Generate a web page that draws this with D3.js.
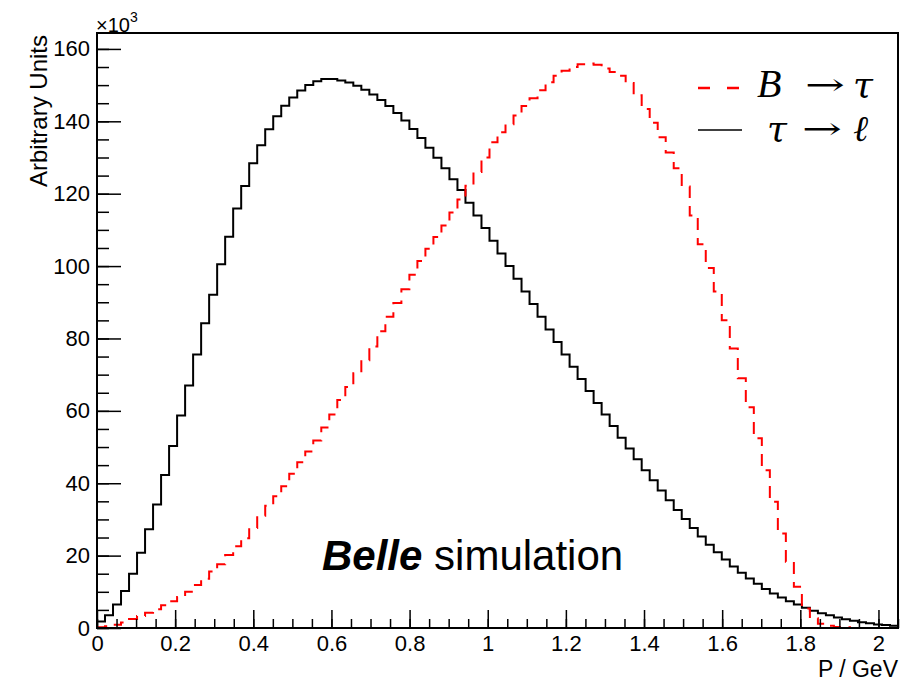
<!DOCTYPE html>
<html>
<head>
<meta charset="utf-8">
<script src="https://cdn.jsdelivr.net/npm/d3@7"></script>
<style>
  html, body { margin: 0; padding: 0; background: #fff; }
  svg { display: block; }
</style>
</head>
<body>
<svg id="chart" width="911" height="681"></svg>
<script>
// ---- data (x 10^3 entries per bin), 100 bins from 0 to 2.05 GeV ----
const xRange = [0, 2.05];
const yRange = [0, 164.4];

// tau -> lepton (black, solid)
const tauToEll = [
  1.8, 3.5, 6.5, 10.2, 15.0, 20.8, 27.3, 34.1, 42.3, 50.3,
  58.7, 67.0, 75.6, 84.2, 92.1, 100.5, 108.1, 115.9, 122.1, 128.4,
  133.4, 137.8, 141.4, 144.3, 146.6, 148.5, 150.0, 151.1, 151.7, 151.7,
  151.3, 150.7, 149.8, 148.7, 147.4, 145.9, 144.2, 142.3, 140.2, 137.9,
  135.4, 132.7, 129.9, 127.0, 124.0, 121.0, 117.5, 114.0, 110.5, 107.0,
  103.5, 100.0, 96.5, 93.0, 89.5, 86.0, 82.5, 79.0, 75.6, 72.2,
  68.8, 65.5, 62.2, 59.0, 55.8, 52.6, 49.6, 46.6, 43.6, 40.8,
  38.0, 35.3, 32.6, 30.1, 27.6, 25.3, 23.0, 20.9, 18.9, 17.0,
  15.3, 13.7, 12.2, 10.8, 9.5, 8.4, 7.4, 6.5, 5.6, 4.8,
  4.1, 3.5, 2.9, 2.4, 2.0, 1.6, 1.3, 1.0, 0.8, 0.6
];

// B -> tau (red, dashed)
const bToTau = [
  0.2, 0.5, 0.9, 1.5, 2.5, 3.3, 4.2, 5.2, 6.3, 7.4,
  8.6, 10.0, 11.9, 13.6, 15.6, 17.6, 20.2, 22.6, 24.8, 27.6,
  31.0, 33.8, 36.4, 39.2, 42.6, 45.8, 48.8, 51.8, 55.4, 59.0,
  63.0, 66.6, 70.4, 74.0, 77.8, 82.0, 86.0, 89.8, 93.6, 97.6,
  101.4, 104.8, 108.0, 111.2, 114.8, 118.4, 122.2, 126.0, 130.0, 134.2,
  137.0, 139.2, 141.6, 144.2, 146.4, 148.6, 150.8, 152.6, 154.0, 155.0,
  155.8, 156.0, 155.6, 154.6, 153.6, 152.6, 150.6, 147.2, 143.4, 139.6,
  135.6, 131.4, 127.0, 122.0, 114.0, 106.0, 99.5, 93.0, 85.0, 77.2,
  69.0, 61.0, 52.4, 43.6, 34.9, 26.1, 18.3, 11.4, 5.4, 2.7,
  1.2, 0.6, 0.3, 0.2, 0, 0, 0, 0, 0, 0
];

const xTickValues = [0, 0.2, 0.4, 0.6, 0.8, 1, 1.2, 1.4, 1.6, 1.8, 2];
const xTickLabels = ["0", "0.2", "0.4", "0.6", "0.8", "1", "1.2", "1.4", "1.6", "1.8", "2"];
const yTickValues = [0, 20, 40, 60, 80, 100, 120, 140, 160];
const yTickLabels = ["0", "20", "40", "60", "80", "100", "120", "140", "160"];

const legendLabels = [
  {parts: ["B", "→", "τ"], color: "#ff0000", dash: true},
  {parts: ["τ", "→", "ℓ"], color: "#000000", dash: false}
];

// ---- layout ----
const frame = {left: 97, right: 898, top: 33, bottom: 628};
const svg = d3.select("#chart");

const x = d3.scaleLinear().domain(xRange).range([frame.left, frame.right]);
const y = d3.scaleLinear().domain(yRange).range([frame.bottom, frame.top]);

// minor ticks
const xMinor = d3.range(0, 81).map(i => i * 0.05).filter(v => v <= xRange[1] + 1e-9);
const yMinor = d3.range(0, 34).map(i => i * 5).filter(v => v <= yRange[1]);

const sans = "'Liberation Sans', Arial, Helvetica, sans-serif";
const serif = "'Liberation Serif', 'Times New Roman', serif";
const dserif = "'DejaVu Serif', serif";

// histogram paths
function histPoints(vals) {
  const n = vals.length;
  const w = (xRange[1] - xRange[0]) / n;
  const pts = [[xRange[0], 0]];
  vals.forEach((v, i) => pts.push([xRange[0] + i * w, v]));
  pts.push([xRange[1], 0]);
  return pts;
}
const line = d3.line()
  .x(d => x(d[0]))
  .y(d => y(d[1]))
  .curve(d3.curveStepAfter);

const plot = svg.append("g");
plot.append("path")
  .attr("d", line(histPoints(tauToEll)))
  .attr("fill", "none")
  .attr("stroke", "#000")
  .attr("stroke-width", 2);

plot.append("path")
  .attr("d", line(histPoints(bToTau)))
  .attr("fill", "none")
  .attr("stroke", "#ff0000")
  .attr("stroke-width", 2)
  .attr("stroke-dasharray", "12,8");

// axes
const xMinorAxis = d3.axisBottom(x).tickValues(xMinor).tickSize(-9).tickFormat("");
const xMajorAxis = d3.axisBottom(x).tickValues(xTickValues).tickSize(-18).tickPadding(7)
  .tickFormat((d, i) => xTickLabels[i]);
const yMinorAxis = d3.axisLeft(y).tickValues(yMinor).tickSize(-12).tickFormat("");
const yMajorAxis = d3.axisLeft(y).tickValues(yTickValues).tickSize(-24).tickPadding(7)
  .tickFormat((d, i) => yTickLabels[i]);

function styleAxis(g) {
  g.select(".domain").remove();
  g.selectAll(".tick line").attr("stroke", "#000").attr("stroke-width", 1.5);
  g.selectAll(".tick text").attr("fill", "#000").style("font-family", sans).style("font-size", "22px");
}

svg.append("g").attr("transform", `translate(0,${frame.bottom})`).call(xMinorAxis).call(styleAxis);
svg.append("g").attr("transform", `translate(0,${frame.bottom})`).call(xMajorAxis).call(styleAxis);
svg.append("g").attr("transform", `translate(${frame.left},0)`).call(yMinorAxis).call(styleAxis);
svg.append("g").attr("transform", `translate(${frame.left},0)`).call(yMajorAxis).call(styleAxis);

// frame
svg.append("rect")
  .attr("x", frame.left).attr("y", frame.top)
  .attr("width", frame.right - frame.left).attr("height", frame.bottom - frame.top)
  .attr("fill", "none").attr("stroke", "#000").attr("stroke-width", 2);

// axis titles
svg.append("text")
  .attr("x", frame.right).attr("y", 677)
  .attr("text-anchor", "end")
  .style("font-family", sans).style("font-size", "23px")
  .text("P / GeV");

svg.append("text")
  .attr("transform", `translate(47,${frame.top + 2}) rotate(-90)`)
  .attr("text-anchor", "end")
  .style("font-family", sans).style("font-size", "24px")
  .text("Arbitrary Units");

// exponent
const ex = svg.append("text")
  .attr("x", frame.left - 1).attr("y", 32)
  .style("font-family", sans).style("font-size", "20px");
ex.append("tspan").text("×10");
ex.append("tspan").attr("dy", -10).style("font-size", "14px").text("3");

// Belle simulation
const bs = svg.append("text")
  .attr("x", 322).attr("y", 570)
  .style("font-family", sans).style("font-size", "42px");
bs.append("tspan").style("font-weight", "bold").style("font-style", "italic").text("Belle");
bs.append("tspan").text(" simulation");

// legend
const legRows = [
  {y: 88, textY: 97, xs: [757, 805, 853]},
  {y: 130, textY: 141, xs: [767, 802, 853]}
];
legendLabels.forEach((lab, r) => {
  const row = legRows[r];
  svg.append("line")
    .attr("x1", 698).attr("x2", 742).attr("y1", row.y).attr("y2", row.y)
    .attr("stroke", lab.color).attr("stroke-width", lab.dash ? 2.5 : 1.5)
    .attr("stroke-dasharray", lab.dash ? "12,17" : null);
  lab.parts.forEach((p, k) => {
    const t = svg.append("text")
      .attr("x", row.xs[k]).attr("y", row.textY)
      .text(p);
    if (k === 1) {
      t.style("font-family", dserif).style("font-size", "30px")
       .attr("y", row.textY - 2)
       .attr("textLength", 40).attr("lengthAdjust", "spacingAndGlyphs");
    } else if (p === "B") {
      t.style("font-family", serif).style("font-size", "40px").style("font-style", "italic");
    } else {
      t.style("font-family", dserif).style("font-size", "36px").style("font-style", "italic")
       .style("font-weight", "300");
    }
  });
});
</script>
</body>
</html>
